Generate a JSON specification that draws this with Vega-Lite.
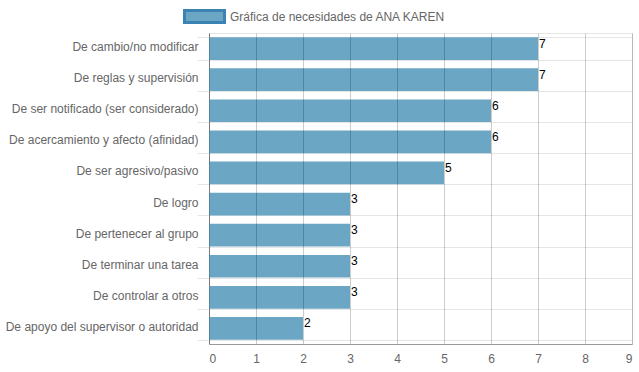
{
  "$schema": "https://vega.github.io/schema/vega-lite/v6.json",
  "autosize": {"type": "none"},
  "padding": {"left": 209, "top": 33, "right": 7, "bottom": 28},
  "width": 423,
  "height": 311,
  "background": "white",
  "config": {
    "view": {"stroke": "#e6e6e6"},
    "font": "Liberation Sans",
    "axis": {"labelFont": "Liberation Sans", "labelFontSize": 12, "labelColor": "#666", "domainColor": "#999", "titleFontSize": 12}
  },
  "data": {
    "values": [
      {"need": "De cambio/no modificar", "value": 7, "series": "Gráfica de necesidades de ANA KAREN"},
      {"need": "De reglas y supervisión", "value": 7, "series": "Gráfica de necesidades de ANA KAREN"},
      {"need": "De ser notificado (ser considerado)", "value": 6, "series": "Gráfica de necesidades de ANA KAREN"},
      {"need": "De acercamiento y afecto (afinidad)", "value": 6, "series": "Gráfica de necesidades de ANA KAREN"},
      {"need": "De ser agresivo/pasivo", "value": 5, "series": "Gráfica de necesidades de ANA KAREN"},
      {"need": "De logro", "value": 3, "series": "Gráfica de necesidades de ANA KAREN"},
      {"need": "De pertenecer al grupo", "value": 3, "series": "Gráfica de necesidades de ANA KAREN"},
      {"need": "De terminar una tarea", "value": 3, "series": "Gráfica de necesidades de ANA KAREN"},
      {"need": "De controlar a otros", "value": 3, "series": "Gráfica de necesidades de ANA KAREN"},
      {"need": "De apoyo del supervisor o autoridad", "value": 2, "series": "Gráfica de necesidades de ANA KAREN"}
    ]
  },
  "encoding": {
    "y": {
      "field": "need", "type": "nominal", "sort": null, "title": null,
      "scale": {"paddingInner": 0.27, "paddingOuter": 0.135},
      "axis": {"tickBand": "extent", "tickOffset": 4.2, "grid": true, "gridColor": "#e6e6e6", "gridWidth": 1, "ticks": true, "tickColor": "#e6e6e6", "tickSize": 12, "tickWidth": 1, "labelPadding": -1, "labelOffset": -2, "labelLimit": 300, "domainColor": "#999"}
    },
    "x": {
      "field": "value", "type": "quantitative", "title": null,
      "scale": {"domain": [0, 9], "nice": false},
      "axis": {"values": [0,1,2,3,4,5,6,7,8,9], "grid": true, "gridColor": "#000", "gridOpacity": 0.2, "ticks": false, "labelPadding": 9, "zindex": 1, "format": "d"}
    }
  },
  "layer": [
    {
      "mark": {"type": "bar", "color": "#6ba6c5"},
      "encoding": {
        "fill": {
          "field": "series", "type": "nominal", "title": null,
          "scale": {"range": ["#6ba6c5"]},
          "legend": {
            "orient": "none", "legendX": -26, "legendY": -38, "padding": 0,
            "symbolType": "M-1,-0.3H1V0.3H-1Z", "symbolSize": 1600,
            "symbolStrokeColor": "#3a83b3", "symbolStrokeWidth": 3, "symbolFillColor": "#6ba6c5", "symbolOpacity": 1,
            "labelFont": "Liberation Sans", "labelFontSize": 12, "labelColor": "#666", "labelOffset": 4,
            "labelLimit": 400
          }
        }
      }
    },
    {
      "mark": {"type": "text", "align": "left", "baseline": "alphabetic", "dx": 1, "dy": -1, "fontSize": 12, "color": "#000", "font": "Liberation Sans"},
      "encoding": {"text": {"field": "value", "type": "quantitative"}}
    }
  ]
}
